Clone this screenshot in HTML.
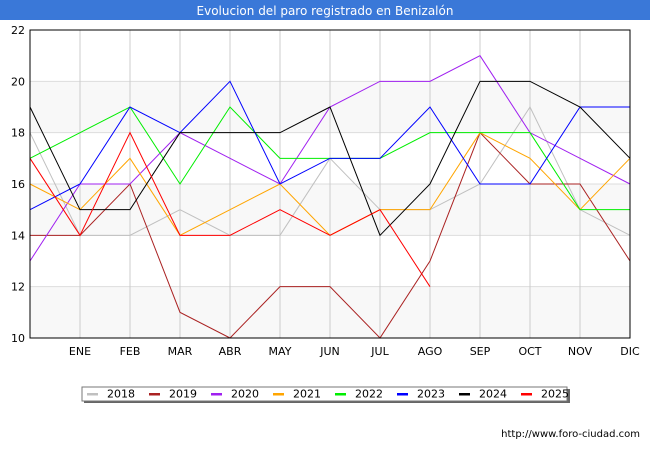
<!DOCTYPE html>
<html><head><meta charset="utf-8"><style>
body{margin:0;background:#fff;font-family:"DejaVu Sans","Liberation Sans",sans-serif}
svg text{font-family:"DejaVu Sans","Liberation Sans",sans-serif}
</style></head><body>
<svg id="c" width="650" height="450">
<rect x="0" y="0" width="650" height="20" fill="#3a78d8"/>
<text x="325" y="15" text-anchor="middle" font-size="12" fill="#fff">Evolucion del paro registrado en Benizalón</text>
<g id="grid"></g><g id="series"></g><g id="axes"></g>
<g id="legend"></g>
<text x="640" y="437" text-anchor="end" font-size="10" fill="#000">http://www.foro-ciudad.com</text>
</svg>
<script>
const months=["","ENE","FEB","MAR","ABR","MAY","JUN","JUL","AGO","SEP","OCT","NOV","DIC"];
const yTicks=[10,12,14,16,18,20,22];
const years=["2018","2019","2020","2021","2022","2023","2024","2025"];
const colors=["#c0c0c0","#aa2222","#a020f0","#ffa500","#00ee00","#0000ff","#000000","#ff0000"];
const s2018=[18,14,14,15,14,14,17,15,15,16,19,15,14];
const s2019=[14,14,16,11,10,12,12,10,13,18,16,16,13];
const s2020=[13,16,16,18,17,16,19,20,20,21,18,17,16];
const s2021=[16,15,17,14,15,16,14,15,15,18,17,15,17];
const s2022=[17,18,19,16,19,17,17,17,18,18,18,15,15];
const s2023=[15,16,19,18,20,16,17,17,19,16,16,19,19];
const s2024=[19,15,15,18,18,18,19,14,16,20,20,19,17];
const s2025=[17,14,18,14,14,15,14,15,12];
const series=[s2018,s2019,s2020,s2021,s2022,s2023,s2024,s2025];
const NS="http://www.w3.org/2000/svg";
const L=30,R=630,T=30,B=338;
const x=i=>L+i*(R-L)/12;
const y=v=>B-(v-10)*(B-T)/12;
function mk(t,a,p){const e=document.createElementNS(NS,t);for(const k in a)e.setAttribute(k,a[k]);p.appendChild(e);return e;}
const g=document.getElementById('grid'),sg=document.getElementById('series'),ax=document.getElementById('axes'),lg=document.getElementById('legend');
for(let i=0;i<yTicks.length-1;i+=1){if(i%2==0){const r=mk('rect',{x:L,y:y(yTicks[i+1]),width:R-L,height:y(yTicks[i])-y(yTicks[i+1]),fill:'#f8f8f8'},g);}}
yTicks.forEach(v=>{const l=mk('line',{x1:L,x2:R,y1:y(v),y2:y(v),stroke:'#dddddd'},g);
const t=mk('text',{x:L-5,y:y(v)+4,'text-anchor':'end','font-size':11},ax);t.textContent=v;});
months.forEach((m,i)=>{const l=mk('line',{x1:x(i),x2:x(i),y1:T,y2:B,stroke:'#cccccc'},g);
if(m){const t=mk('text',{x:x(i),y:B+17,'text-anchor':'middle','font-size':11},ax);t.textContent=m;}});
const fr=mk('rect',{x:L,y:T,width:R-L,height:B-T,fill:'none',stroke:'#000'},ax);
series.forEach((s,k)=>{const p=mk('polyline',{points:s.map((v,i)=>x(i)+','+y(v)).join(' '),fill:'none',stroke:colors[k],'stroke-width':1},sg);});
const sh=mk('rect',{x:84,y:389,width:486,height:14,fill:'#666'},lg);
const bx=mk('rect',{x:82,y:387,width:485,height:14,fill:'#fff',stroke:'#777'},lg);
years.forEach((yr,k)=>{const x0=87+k*62;const sw=mk('rect',{x:x0,y:393,width:11,height:2.5,fill:colors[k]},lg);
const t=mk('text',{x:x0+20,y:397.5,'font-size':11},lg);t.textContent=yr;});
</script>
</body></html>
